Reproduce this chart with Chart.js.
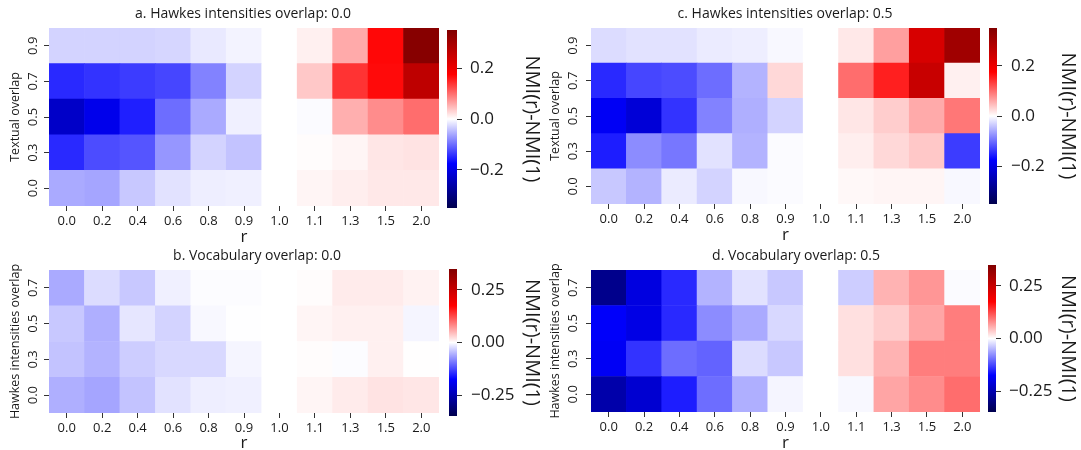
<!DOCTYPE html>
<html>
<head>
<meta charset="utf-8">
<script src="https://cdn.jsdelivr.net/npm/chart.js@4.4.1/dist/chart.umd.min.js"></script>
<style>
  body { margin: 0; background: #fff; width: 1081px; height: 450px; overflow: hidden; position: relative; }
  canvas { position: absolute; }
</style>
</head>
<body>
<canvas id="heatA"></canvas>
<canvas id="heatB"></canvas>
<canvas id="heatC"></canvas>
<canvas id="heatD"></canvas>
<canvas id="barA"></canvas>
<canvas id="barB"></canvas>
<canvas id="barC"></canvas>
<canvas id="barD"></canvas>
<script>
var FONT = "'Open Sans', sans-serif";
var INK = '#1a1a1a';

// x categories (r) and row labels
var rLabels = ['0.0', '0.2', '0.4', '0.6', '0.8', '0.9', '1.0', '1.1', '1.3', '1.5', '2.0'];
var textualLabels = ['0.0', '0.3', '0.5', '0.7', '0.9'];
var hawkesLabels = ['0.0', '0.3', '0.5', '0.7'];

// colorbar range and ticks
var vmax = 0.35;
var cbTicksTop = [-0.2, 0, 0.2];
var cbTicksBottom = [-0.25, 0, 0.25];

// NMI(r)-NMI(1), rows listed bottom to top
var aValues = [
  [-0.058, -0.062, -0.038, -0.020, -0.012, -0.010, 0, 0.007, 0.012, 0.016, 0.016],  // 0.0
  [-0.147, -0.123, -0.117, -0.072, -0.030, -0.041, 0, 0.002, 0.007, 0.017, 0.019],  // 0.3
  [-0.229, -0.195, -0.154, -0.100, -0.058, -0.010, 0, -0.003, 0.055, 0.079, 0.100], // 0.5
  [-0.147, -0.140, -0.134, -0.127, -0.086, -0.030, 0, 0.038, 0.140, 0.168, 0.264],  // 0.7
  [-0.030, -0.030, -0.030, -0.028, -0.015, -0.008, 0, 0.010, 0.058, 0.170, 0.340]   // 0.9
];
var bValues = [
  [-0.055, -0.062, -0.041, -0.020, -0.012, -0.010, 0, 0.007, 0.014, 0.019, 0.017],  // 0.0
  [-0.041, -0.052, -0.034, -0.027, -0.027, -0.007, 0, 0.002, -0.002, 0.010, 0.001], // 0.3
  [-0.038, -0.055, -0.017, -0.030, -0.005, -0.001, 0, 0.007, 0.010, 0.010, -0.007], // 0.5
  [-0.058, -0.024, -0.038, -0.010, -0.002, -0.002, 0, 0.002, 0.014, 0.014, 0.009]   // 0.7
];
var cValues = [
  [-0.038, -0.052, -0.014, -0.030, -0.005, -0.003, 0, 0.005, 0.007, 0.007, -0.005], // 0.0
  [-0.155, -0.079, -0.093, -0.020, -0.052, -0.003, 0, 0.012, 0.027, 0.038, -0.134], // 0.3
  [-0.185, -0.214, -0.140, -0.086, -0.055, -0.030, 0, 0.017, 0.034, 0.058, 0.093],  // 0.5
  [-0.147, -0.127, -0.123, -0.100, -0.052, 0.027, 0, 0.100, 0.154, 0.250, 0.010],   // 0.7
  [-0.024, -0.020, -0.020, -0.014, -0.012, -0.005, 0, 0.016, 0.066, 0.230, 0.305]   // 0.9
];
var dValues = [
  [-0.258, -0.220, -0.155, -0.100, -0.055, -0.007, 0, -0.005, 0.062, 0.079, 0.100], // 0.0
  [-0.185, -0.140, -0.100, -0.107, -0.024, -0.038, 0, 0.021, 0.052, 0.089, 0.089],  // 0.3
  [-0.180, -0.200, -0.147, -0.079, -0.058, -0.027, 0, 0.021, 0.034, 0.062, 0.089],  // 0.5
  [-0.288, -0.205, -0.147, -0.052, -0.020, -0.038, 0, -0.034, 0.052, 0.072, -0.003] // 0.7
];

// matplotlib "seismic"
function seismic(v) {
  var t = Math.max(0, Math.min(1, (v + vmax) / (2 * vmax)));
  var r, g, b;
  if (t < 0.25) { r = 0; g = 0; b = 0.3 + 0.7 * t / 0.25; }
  else if (t < 0.5) { r = g = (t - 0.25) / 0.25; b = 1; }
  else if (t < 0.75) { r = 1; g = b = 1 - (t - 0.5) / 0.25; }
  else { r = 1 - 0.5 * (t - 0.75) / 0.25; g = b = 0; }
  return 'rgb(' + Math.round(r * 255) + ',' + Math.round(g * 255) + ',' + Math.round(b * 255) + ')';
}

function place(id, left, top, w, h) {
  var el = document.getElementById(id);
  el.width = w; el.height = h;
  el.style.left = left + 'px';
  el.style.top = top + 'px';
  return el;
}

function heatmap(id, p) {
  var el = place(id, p.left, p.top, p.w, p.h);
  var datasets = p.values.map(function (row, i) {
    return {
      data: row.map(function () { return [i - 0.5, i + 0.5]; }),
      backgroundColor: row.map(seismic),
      borderWidth: 0,
      grouped: false,
      barPercentage: 1,
      categoryPercentage: 1
    };
  });
  return new Chart(el, {
    type: 'bar',
    data: { labels: rLabels, datasets: datasets },
    options: {
      responsive: false,
      animation: false,
      layout: { padding: 0 },
      plugins: {
        legend: { display: false },
        tooltip: { enabled: false },
        title: {
          display: true, text: p.title, color: INK,
          font: { family: FONT, size: 14, weight: 'normal' },
          padding: { top: 5.6, bottom: 5.6 }
        }
      },
      scales: {
        x: {
          type: 'category',
          offset: true,
          grid: { offset: false, drawOnChartArea: false, tickLength: 5, tickColor: '#333' },
          border: { display: false },
          ticks: { color: INK, font: { family: FONT, size: 13 }, padding: 2.2, maxRotation: 0, autoSkip: false },
          title: { display: true, text: 'r', color: INK, font: { family: FONT, size: 17 }, padding: { top: 0, bottom: 3 } },
          afterFit: function (s) { s.height = p.xh; }
        },
        y: {
          type: 'linear',
          position: 'left',
          min: -0.5,
          max: p.rows.length - 0.5,
          afterBuildTicks: function (s) {
            s.ticks = p.rows.map(function (_, i) { return { value: i }; });
          },
          grid: { drawOnChartArea: false, tickLength: 5, tickColor: '#333' },
          border: { display: false },
          ticks: {
            callback: function (v) { return p.rows[v]; },
            color: INK, font: { family: FONT, size: 13 },
            minRotation: 90, maxRotation: 90, crossAlign: 'center',
            padding: p.yw - 5 - 9.2 - 33.5
          },
          title: { display: true, text: p.yTitle, color: INK, font: { family: FONT, size: 12.5 }, padding: { top: 8, bottom: 0 } },
          afterFit: function (s) { s.width = p.yw; }
        },
        pad: {
          type: 'linear',
          position: 'right',
          grid: { display: false },
          border: { display: false },
          ticks: { display: false },
          afterFit: function (s) { s.width = p.rw; }
        }
      }
    }
  });
}

function colorbar(id, p) {
  var titleSize = 20;
  var left = p.cbx - 5;
  var w = Math.round(p.titleX + titleSize * 0.6 + 4 - left);
  var el = place(id, left, p.top - 20, w, p.bottom - p.top + 40);
  return new Chart(el, {
    type: 'bar',
    data: {
      labels: [''],
      datasets: [{
        data: [[-vmax, vmax]],
        backgroundColor: function (ctx) {
          var area = ctx.chart.chartArea;
          if (!area) return null;
          var g = ctx.chart.ctx.createLinearGradient(0, area.bottom, 0, area.top);
          g.addColorStop(0, 'rgb(0,0,77)');
          g.addColorStop(0.25, 'rgb(0,0,255)');
          g.addColorStop(0.5, 'rgb(255,255,255)');
          g.addColorStop(0.75, 'rgb(255,0,0)');
          g.addColorStop(1, 'rgb(128,0,0)');
          return g;
        },
        borderWidth: 0,
        barPercentage: 1,
        categoryPercentage: 1
      }]
    },
    options: {
      responsive: false,
      animation: false,
      layout: { padding: { left: 5, top: 20, bottom: 20, right: 0 } },
      plugins: { legend: { display: false }, tooltip: { enabled: false } },
      scales: {
        x: { display: false },
        y: {
          position: 'right',
          min: -vmax,
          max: vmax,
          afterBuildTicks: function (s) {
            s.ticks = p.ticks.map(function (v) { return { value: v }; });
          },
          grid: { drawOnChartArea: false, tickLength: 5, tickColor: '#333' },
          border: { display: false },
          ticks: {
            callback: function (v) { return v.toFixed(p.dec).replace('-', '\u2212'); },
            color: INK, font: { family: FONT, size: 17 },
            padding: p.labelX - (p.cbx + p.cbw + 5)
          },
          title: { display: true, text: 'NMI(r)-NMI(1)', color: INK, font: { family: FONT, size: titleSize }, padding: { top: 4, bottom: 0 } },
          afterFit: function (s) { s.width = w - 5 - p.cbw; }
        }
      }
    }
  });
}

heatmap('heatA', { left: 0, top: 0, w: 486, h: 250, yw: 49, rw: 47, xh: 44, values: aValues, rows: textualLabels,
  title: 'a. Hawkes intensities overlap: 0.0', yTitle: 'Textual overlap' });
heatmap('heatC', { left: 540, top: 0, w: 490, h: 248, yw: 51, rw: 50, xh: 44, values: cValues, rows: textualLabels,
  title: 'c. Hawkes intensities overlap: 0.5', yTitle: 'Textual overlap' });
heatmap('heatB', { left: 0, top: 242, w: 514, h: 214, yw: 49, rw: 75, xh: 43, values: bValues, rows: hawkesLabels,
  title: 'b. Vocabulary overlap: 0.0', yTitle: 'Hawkes intensities overlap' });
heatmap('heatD', { left: 540, top: 242, w: 512, h: 214, yw: 51, rw: 72, xh: 44, values: dValues, rows: hawkesLabels,
  title: 'd. Vocabulary overlap: 0.5', yTitle: 'Hawkes intensities overlap' });

colorbar('barA', { cbx: 447, cbw: 10, top: 30, bottom: 208, titleX: 532, labelX: 470, ticks: cbTicksTop, dec: 1 });
colorbar('barC', { cbx: 989, cbw: 8, top: 28, bottom: 204, titleX: 1068, labelX: 1011, ticks: cbTicksTop, dec: 1 });
colorbar('barB', { cbx: 449, cbw: 8, top: 269, bottom: 416, titleX: 532, labelX: 471, ticks: cbTicksBottom, dec: 2 });
colorbar('barD', { cbx: 988, cbw: 8, top: 265, bottom: 412, titleX: 1068, labelX: 1009, ticks: cbTicksBottom, dec: 2 });
</script>
</body>
</html>
